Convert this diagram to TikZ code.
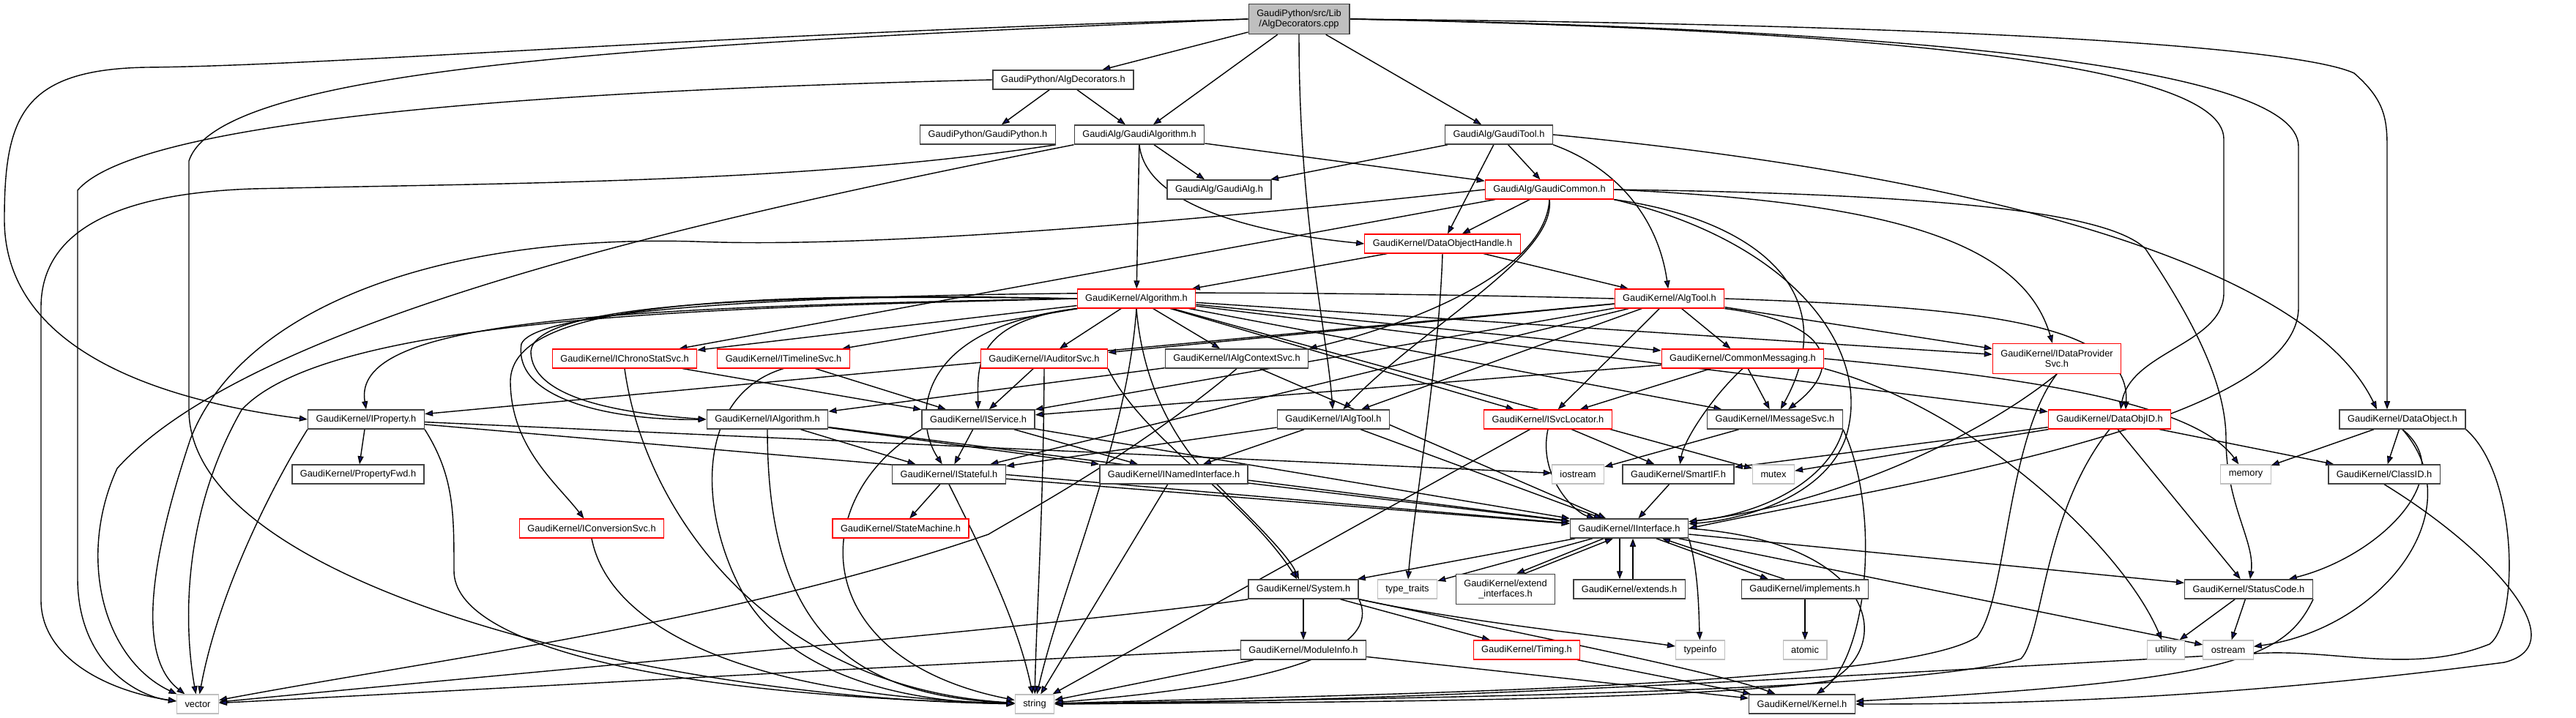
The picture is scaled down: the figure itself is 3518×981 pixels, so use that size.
\documentclass[tikz,border=0pt]{standalone}
\usepackage{fontspec}
\setmainfont{Liberation Sans}
\usepackage{tikz}
\usetikzlibrary{arrows.meta,backgrounds}
\definecolor{incblue}{HTML}{191970}
\definecolor{boxred}{HTML}{FF0000}
\definecolor{boxgray}{HTML}{BFBFBF}
\definecolor{rootgray}{HTML}{BFBFBF}
\definecolor{boxblack}{HTML}{404040}
\tikzset{
  hdr/.style={draw=boxblack, fill=white, line width=0.15mm, align=center,
    font=\fontsize{3.65pt}{4.1pt}\selectfont, inner xsep=1.1mm, inner ysep=0.3mm, minimum height=2.6mm},
  hdrred/.style={hdr, draw=boxred, line width=0.12mm},
  sysinc/.style={hdr, draw=boxgray, line width=0.12mm},
  rootfile/.style={hdr, fill=rootgray, minimum height=4.1mm},
  inc/.style={draw=incblue, line width=0.4pt, -{Triangle[length=1.1mm,width=0.8mm]}}
}
\begin{document}
\begin{tikzpicture}[x=0.1mm,y=-0.1mm]
  \useasboundingbox (0,0) rectangle (3518,981);
  \node[rootfile] (root) at (1774,26) {GaudiPython/src/Lib\\/AlgDecorators.cpp};
  \node[hdr] (algdec) at (1452,109) {GaudiPython/AlgDecorators.h};
  \node[hdr] (gpy) at (1349,184) {GaudiPython/GaudiPython.h};
  \node[hdr] (galgo) at (1556,184) {GaudiAlg/GaudiAlgorithm.h};
  \node[hdr] (gtool) at (2047,184) {GaudiAlg/GaudiTool.h};
  \node[hdr] (galg) at (1665,259) {GaudiAlg/GaudiAlg.h};
  \node[hdrred] (gcommon) at (2116,259) {GaudiAlg/GaudiCommon.h};
  \node[hdrred] (doh) at (1970,333) {GaudiKernel/DataObjectHandle.h};
  \node[hdrred] (algo) at (1552,408) {GaudiKernel/Algorithm.h};
  \node[hdrred] (algtool) at (2280,408) {GaudiKernel/AlgTool.h};
  \node[hdrred] (ichrono) at (853,490) {GaudiKernel/IChronoStatSvc.h};
  \node[hdrred] (itimeline) at (1070,490) {GaudiKernel/ITimelineSvc.h};
  \node[hdrred] (iauditor) at (1426,490) {GaudiKernel/IAuditorSvc.h};
  \node[hdr] (ialgctx) at (1689,490) {GaudiKernel/IAlgContextSvc.h};
  \node[hdrred] (cmsg) at (2380,490) {GaudiKernel/CommonMessaging.h};
  \node[hdrred, minimum height=4.1mm] (idps) at (2809,490) {GaudiKernel/IDataProvider\\Svc.h};
  \node[hdr] (iprop) at (500,573) {GaudiKernel/IProperty.h};
  \node[hdr] (ialgo) at (1048,573) {GaudiKernel/IAlgorithm.h};
  \node[hdr] (isvc) at (1336,573) {GaudiKernel/IService.h};
  \node[hdr] (ialgtool) at (1821,573) {GaudiKernel/IAlgTool.h};
  \node[hdrred] (isvcloc) at (2114,573) {GaudiKernel/ISvcLocator.h};
  \node[hdr] (imsg) at (2424,573) {GaudiKernel/IMessageSvc.h};
  \node[hdrred] (dataobjid) at (2881,573) {GaudiKernel/DataObjID.h};
  \node[hdr] (dataobj) at (3281,573) {GaudiKernel/DataObject.h};
  \node[hdr] (propfwd) at (489,648) {GaudiKernel/PropertyFwd.h};
  \node[hdr] (istateful) at (1296,648) {GaudiKernel/IStateful.h};
  \node[hdr] (inamed) at (1603,648) {GaudiKernel/INamedInterface.h};
  \node[sysinc] (iostream) at (2155,648) {iostream};
  \node[hdr] (smartif) at (2292,648) {GaudiKernel/SmartIF.h};
  \node[sysinc] (mutex) at (2422,648) {mutex};
  \node[sysinc] (memory) at (3067,648) {memory};
  \node[hdr] (classid) at (3256,648) {GaudiKernel/ClassID.h};
  \node[hdrred] (iconv) at (808,722) {GaudiKernel/IConversionSvc.h};
  \node[hdrred] (statem) at (1230,722) {GaudiKernel/StateMachine.h};
  \node[hdr] (iiface) at (2225,722) {GaudiKernel/IInterface.h};
  \node[hdr] (system) at (1780,805) {GaudiKernel/System.h};
  \node[sysinc] (typetraits) at (1922,805) {type\_traits};
  \node[hdr, minimum height=4.1mm] (extiface) at (2056,805) {GaudiKernel/extend\\\_interfaces.h};
  \node[hdr] (extends) at (2225,805) {GaudiKernel/extends.h};
  \node[hdr] (impl) at (2465,805) {GaudiKernel/implements.h};
  \node[hdr] (statuscode) at (3071,805) {GaudiKernel/StatusCode.h};
  \node[hdr] (modinfo) at (1780,888) {GaudiKernel/ModuleInfo.h};
  \node[hdrred] (timing) at (2085,888) {GaudiKernel/Timing.h};
  \node[sysinc] (typeinfo) at (2322,888) {typeinfo};
  \node[sysinc] (atomic) at (2465,888) {atomic};
  \node[sysinc] (utility) at (2958,888) {utility};
  \node[sysinc] (ostream) at (3043,888) {ostream};
  \node[sysinc] (vector) at (270,962) {vector};
  \node[sysinc] (string) at (1413,962) {string};
  \node[hdr] (kernel) at (2461,962) {GaudiKernel/Kernel.h};
  \begin{scope}[on background layer, inc]
    % AlgDecorators.cpp
    \draw (root) -- (algdec);
    \draw (root) -- (galgo);
    \draw (root) -- (gtool);
    \draw (root.south) .. controls (1774,300) and (1812,450) .. (ialgtool);
    \draw (root.west) .. controls (1000,45) and (450,90) .. (200,92) .. controls (30,95) and (6,160) .. (6,300) .. controls (6,470) and (200,545) .. (iprop.west);
    \draw (root.west) .. controls (900,60) and (300,90) .. (258,220) -- (258,560) .. controls (258,800) and (900,955) .. (string);
    \draw (root.east) .. controls (2500,40) and (3037,80) .. (3037,190) -- (3037,400) .. controls (3037,470) and (2910,480) .. ([xshift=1.5mm]dataobjid.north);
    \draw (root.east) .. controls (2600,40) and (3139,90) .. (3139,200) -- (3139,420) .. controls (3139,580) and (2600,660) .. (iiface.east);
    \draw (root.east) .. controls (2800,35) and (3150,70) .. (3215,100) .. controls (3255,135) and (3260,160) .. (3260,200) -- ([xshift=-2.1mm]dataobj.north);
    % GaudiPython
    \draw (algdec) -- (gpy);
    \draw (algdec) -- (galgo);
    \draw (algdec.west) .. controls (900,120) and (200,150) .. (106,260) -- (106,790) .. controls (106,900) and (180,950) .. (vector);
    \draw (gpy.south east) .. controls (1100,250) and (700,250) .. (344,258) .. controls (150,265) and (56,320) .. (56,420) -- (56,820) .. controls (56,900) and (150,945) .. (vector);
    % GaudiAlg
    \draw (galgo) -- (galg);
    \draw (galgo) -- (gcommon);
    \draw (galgo.south) .. controls (1565,290) and (1750,322) .. (doh.west);
    \draw (galgo) -- (algo);
    \draw (galgo.south west) .. controls (1000,290) and (350,430) .. (160,640) .. controls (105,760) and (140,900) .. (vector);
    \draw (gtool) -- (galg);
    \draw (gtool) -- (gcommon);
    \draw (gtool) -- (doh);
    \draw (gtool.south east) .. controls (2210,230) and (2265,300) .. (algtool);
    \draw (gtool.east) .. controls (2700,240) and (3150,360) .. ([xshift=-3.5mm]dataobj.north);
    \draw (gcommon) -- (doh);
    \draw (gcommon) -- (ichrono);
    \draw (gcommon.west) .. controls (1650,300) and (1200,340) .. (950,330) .. controls (600,320) and (330,420) .. (260,600) .. controls (200,780) and (190,900) .. (vector);
    \draw (gcommon.south) .. controls (2110,380) and (1900,450) .. (ialgctx.north east);
    \draw (gcommon.south) .. controls (2125,350) and (1950,440) .. (ialgtool);
    \draw (gcommon.east) .. controls (2550,275) and (2760,320) .. (idps);
    \draw (gcommon.south east) .. controls (2400,300) and (2520,400) .. (imsg);
    \draw (gcommon.east) .. controls (2650,265) and (2880,290) .. (2930,340) .. controls (2990,430) and (3040,520) .. (3040,600) .. controls (3040,690) and (3080,740) .. (statuscode);
    \draw (gcommon.south east) .. controls (2450,330) and (2560,480) .. (2520,600) .. controls (2490,680) and (2380,710) .. (iiface);
    % DataObjectHandle, Algorithm, AlgTool
    \draw (doh) -- (algo);
    \draw (doh) -- (algtool);
    \draw (doh.south) .. controls (1965,500) and (1930,700) .. (typetraits);
    \draw (algo) -- (ichrono);
    \draw (algo) -- (itimeline);
    \draw (algo) -- (iauditor);
    \draw (algo) -- (ialgctx);
    \draw (algo.west) .. controls (800,420) and (480,440) .. (iprop.north);
    \draw (algo.west) .. controls (1000,400) and (730,420) .. (725,480) .. controls (725,545) and (850,565) .. (ialgo.west);
    \draw (algo.south west) .. controls (1330,440) and (1335,500) .. (isvc);
    \draw (algo.south west) .. controls (1240,450) and (1250,580) .. (istateful);
    \draw (algo.west) .. controls (900,395) and (700,430) .. (697,520) .. controls (697,610) and (760,660) .. (iconv);
    \draw (algo.west) .. controls (1000,420) and (450,430) .. (330,560) .. controls (250,700) and (250,850) .. (vector);
    \draw (algo.south) .. controls (1560,520) and (1600,600) .. (1660,660) .. controls (1720,720) and (1760,760) .. (system);
    \draw (algo.south) .. controls (1540,600) and (1450,800) .. (string);
    \draw (algo) -- (cmsg);
    \draw (algo) -- (isvcloc);
    \draw (algo) -- (imsg);
    \draw (algo) -- (idps);
    \draw (algo) -- (dataobjid);
    \draw (algo) -- (mutex);
    \draw (algtool) -- (cmsg);
    \draw (algtool) -- (idps);
    \draw (algtool.east) .. controls (2700,420) and (2910,440) .. ([xshift=2.2mm]dataobjid.north);
    \draw (algtool) -- (isvcloc);
    \draw (algtool.south east) .. controls (2500,440) and (2520,500) .. (imsg);
    \draw (algtool) -- (ialgtool);
    \draw (algtool) -- (iprop);
    \draw (algtool) -- (isvc);
    \draw (algtool) -- (istateful);
    \draw (algtool) -- (iauditor);
    \draw (algtool.west) .. controls (1500,390) and (740,400) .. (712,470) .. controls (700,550) and (850,575) .. (ialgo.west);
    % services
    \draw (ichrono) -- (isvc);
    \draw (ichrono.south) .. controls (880,700) and (1050,940) .. (string);
    \draw (itimeline) -- (isvc);
    \draw (itimeline.south) .. controls (950,540) and (950,700) .. (1020,820) .. controls (1090,930) and (1250,960) .. (string);
    \draw (iauditor) -- (isvc);
    \draw (iauditor.south) .. controls (1425,700) and (1415,850) .. (string);
    \draw (iauditor.south east) .. controls (1560,600) and (1700,680) .. (system);
    \draw (ialgctx) -- (ialgo);
    \draw (ialgctx.south) .. controls (1550,620) and (1400,700) .. (1350,730) .. controls (1000,850) and (600,900) .. (vector);
    \draw (ialgctx) -- (iiface);
    \draw (cmsg) -- (isvc);
    \draw (cmsg) -- (isvcloc);
    \draw (cmsg) -- (imsg);
    \draw (cmsg.south) .. controls (2340,540) and (2300,600) .. (smartif);
    \draw (cmsg.east) .. controls (2700,510) and (2990,540) .. (memory);
    \draw (cmsg.south east) .. controls (2700,560) and (2900,750) .. (utility);
    \draw (idps.south) .. controls (2700,600) and (2500,690) .. (iiface);
    \draw (idps.south) .. controls (2740,600) and (2741,820) .. (2700,870) .. controls (2600,940) and (1800,950) .. (string);
    % interfaces
    \draw (iprop) -- (propfwd);
    \draw (iprop.south west) .. controls (380,650) and (300,800) .. (vector);
    \draw (iprop.south east) .. controls (620,650) and (620,700) .. (620,780) .. controls (620,880) and (900,950) .. (string);
    \draw (iprop) -- (iiface);
    \draw (iprop) -- (iostream);
    \draw (ialgo) -- (istateful);
    \draw (ialgo) -- (inamed);
    \draw (ialgo.south) .. controls (1048,850) and (1150,950) .. (string);
    \draw (ialgo) -- (iiface);
    \draw (isvc) -- (istateful);
    \draw (isvc) -- (inamed);
    \draw (isvc.south west) .. controls (1100,680) and (1100,900) .. (string);
    \draw (isvc) -- (iiface);
    \draw (ialgtool) -- (istateful);
    \draw (ialgtool) -- (inamed);
    \draw (ialgtool) -- (iiface);
    \draw (isvcloc) -- (smartif);
    \draw (isvcloc.south) .. controls (2100,650) and (2150,700) .. (iiface);
    \draw (isvcloc) -- (string);
    \draw (imsg) -- (iostream);
    \draw (imsg.south east) .. controls (2500,650) and (2420,700) .. (iiface);
    \draw (imsg.south east) .. controls (2570,700) and (2550,900) .. (kernel);
    \draw (istateful) -- (statem);
    \draw (istateful.south) .. controls (1340,750) and (1390,850) .. (string);
    \draw (istateful) -- (iiface);
    \draw (inamed) -- (string);
    \draw (inamed) -- (iiface);
    \draw (iconv.south) .. controls (830,850) and (1000,950) .. (string);
    \draw (smartif) -- (iiface);
    % data objects
    \draw (dataobjid) -- (classid);
    \draw (dataobjid) -- (statuscode);
    \draw (dataobjid.south) .. controls (2790,700) and (2790,870) .. (2760,900) .. controls (2600,950) and (1800,955) .. (string);
    \draw (dataobjid) -- (mutex);
    \draw (dataobjid) -- (smartif);
    \draw (dataobj) -- (memory);
    \draw (dataobj) -- (classid);
    \draw (dataobj.south) .. controls (3360,650) and (3250,760) .. (statuscode);
    \draw (dataobj.south) .. controls (3380,700) and (3250,860) .. (ostream);
    \draw (dataobj.south east) .. controls (3440,650) and (3440,850) .. (3400,880) .. controls (3300,920) and (3200,890) .. (3100,892) .. controls (2900,900) and (2000,960) .. (string);
    \draw (classid.south) .. controls (3400,750) and (3520,880) .. (3420,905) .. controls (3000,960) and (2700,962) .. (kernel);
    % IInterface and below
    \draw (iiface) -- (system);
    \draw (iiface) -- (typetraits);
    \draw ([xshift=-3.5mm]iiface.south) -- ([xshift=1.5mm]extiface.north);
    \draw ([xshift=2.6mm]extiface.north) -- ([xshift=-2.2mm]iiface.south);
    \draw ([xshift=-1.3mm]iiface.south) -- ([xshift=-1.3mm]extends.north);
    \draw ([xshift=0.5mm]extends.north) -- ([xshift=0.5mm]iiface.south);
    \draw ([xshift=3.7mm]iiface.south) -- ([xshift=-5mm]impl.north);
    \draw ([xshift=-2.8mm]impl.north) -- ([xshift=4.5mm]iiface.south);
    \draw (iiface.south east) .. controls (2320,780) and (2320,840) .. (typeinfo);
    \draw (iiface) -- (statuscode);
    \draw (iiface) -- (ostream);
    \draw (iiface.east) .. controls (2560,740) and (2590,880) .. (2500,930) .. controls (2300,960) and (1700,960) .. (string);
    \draw (system) -- (modinfo);
    \draw (system) -- (timing);
    \draw (system.south east) .. controls (2000,850) and (2200,870) .. (typeinfo);
    \draw (system.south east) .. controls (2100,870) and (2350,920) .. (kernel);
    \draw (system.south east) .. controls (1880,870) and (1820,930) .. (string);
    \draw (system.south west) .. controls (1500,850) and (700,920) .. (vector);
    \draw (modinfo) -- (string);
    \draw (modinfo) -- (kernel);
    \draw (modinfo.west) .. controls (1400,900) and (700,940) .. (vector);
    \draw (timing) -- (kernel);
    \draw (impl) -- (atomic);
    \draw (statuscode) -- (utility);
    \draw (statuscode) -- (ostream);
    \draw (statuscode.south east) .. controls (3120,900) and (3050,930) .. (kernel);
  \end{scope}
\end{tikzpicture}
\end{document}
